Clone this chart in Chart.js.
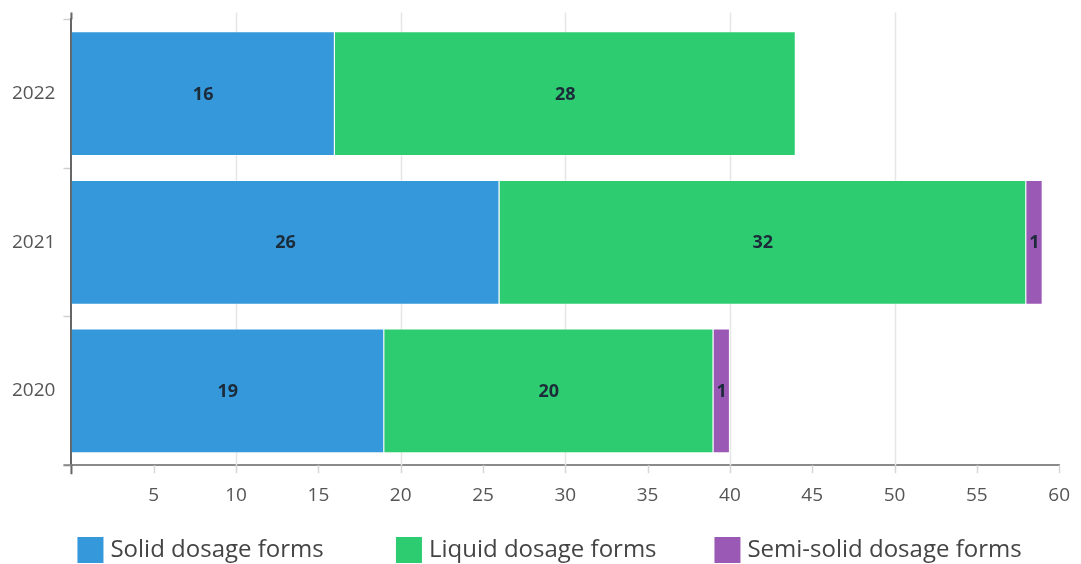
<!DOCTYPE html>
<html>
<head>
<meta charset="utf-8">
<script src="https://cdn.jsdelivr.net/npm/chart.js@4"></script>
<style>
  html, body { margin: 0; padding: 0; background: #fff; }
  #wrap { width: 1081px; height: 564px; }
</style>
</head>
<body>
<div id="wrap"><canvas id="chart"></canvas></div>
<script>
// data
const years = ['2022', '2021', '2020'];
const solidForms = [16, 26, 19];
const liquidForms = [28, 32, 20];
const semiSolidForms = [0, 1, 1];
const seriesNames = ['Solid dosage forms', 'Liquid dosage forms', 'Semi-solid dosage forms'];
const seriesColors = ['#3498db', '#2ecc71', '#9b59b6'];
const xMax = 60;
const xStep = 5;
const gridEvery = 10;

// light gridlines every 10 and small tick marks every 5 on the value axis
const valueAxisMarks = {
    id: 'valueAxisMarks',
    beforeDatasetsDraw(chart) {
        const { ctx, chartArea } = chart;
        const x = chart.scales.x;
        ctx.save();
        x.ticks.forEach(t => {
            const px = Math.round(x.getPixelForValue(t.value)) + 0.5;
            if (t.value > 0 && t.value < xMax && t.value % gridEvery === 0) {
                ctx.strokeStyle = '#e6e6e6';
                ctx.lineWidth = 1.5;
                ctx.beginPath();
                ctx.moveTo(px, chartArea.top - 7);
                ctx.lineTo(px, chartArea.bottom);
                ctx.stroke();
            }
            if (t.value > 0) {
                ctx.strokeStyle = '#d6d6d6';
                ctx.lineWidth = 1.5;
                ctx.beginPath();
                ctx.moveTo(px, chartArea.bottom);
                ctx.lineTo(px, chartArea.bottom + 8);
                ctx.stroke();
            }
        });
        ctx.restore();
    }
};

// values drawn in the middle of each segment
const barValueLabels = {
    id: 'barValueLabels',
    afterDatasetsDraw(chart) {
        const ctx = chart.ctx;
        ctx.save();
        ctx.font = 'bold 18px "Open Sans"';
        ctx.fillStyle = '#1c2b39';
        ctx.textAlign = 'center';
        ctx.textBaseline = 'middle';
        chart.data.datasets.forEach((ds, i) => {
            const meta = chart.getDatasetMeta(i);
            meta.data.forEach((bar, j) => {
                const v = ds.data[j];
                if (!v) return;
                const p = bar.getCenterPoint();
                ctx.fillText(String(v), p.x, p.y + 1);
            });
        });
        ctx.restore();
    }
};

// legend in fixed-width columns, like the original, plus the axis stubs
const columnLegend = {
    id: 'columnLegend',
    afterDraw(chart) {
        const { ctx, chartArea } = chart;
        const colWidth = 318.5;
        const box = 26;
        const midY = chart.height - 14;
        ctx.save();
        ctx.font = '24px "Open Sans"';
        ctx.textBaseline = 'middle';
        ctx.textAlign = 'left';
        chart.data.datasets.forEach((ds, i) => {
            const x = chartArea.left + 6 + i * colWidth;
            ctx.fillStyle = ds.backgroundColor;
            ctx.fillRect(x, midY - box / 2, box, box);
            ctx.fillStyle = '#444';
            ctx.fillText(ds.label, x + box + 7, midY);
        });
        // y axis line runs a little past the plot at both ends
        ctx.strokeStyle = '#666';
        ctx.lineWidth = 2;
        ctx.beginPath();
        ctx.moveTo(chartArea.left, chartArea.top - 7);
        ctx.lineTo(chartArea.left, chartArea.top);
        ctx.moveTo(chartArea.left, chartArea.bottom);
        ctx.lineTo(chartArea.left, chartArea.bottom + 9);
        ctx.stroke();
        // x axis line runs a little left of the plot
        ctx.strokeStyle = '#8a8a8a';
        ctx.beginPath();
        ctx.moveTo(chartArea.left - 8, chartArea.bottom);
        ctx.lineTo(chartArea.left, chartArea.bottom);
        ctx.stroke();
        ctx.restore();
    }
};

function makeSeries(name, values, color) {
    return {
        label: name,
        data: values,
        backgroundColor: color,
        borderColor: 'rgba(255,255,255,0.35)',
        borderWidth: 1,
        categoryPercentage: 0.84,
        barPercentage: 1
    };
}

const ctx = document.getElementById('chart').getContext('2d');
new Chart(ctx, {
    type: 'bar',
    data: {
        labels: years,
        datasets: [
            makeSeries(seriesNames[0], solidForms, seriesColors[0]),
            makeSeries(seriesNames[1], liquidForms, seriesColors[1]),
            makeSeries(seriesNames[2], semiSolidForms, seriesColors[2])
        ]
    },
    options: {
        indexAxis: 'y',
        responsive: true,
        maintainAspectRatio: false,
        animation: false,
        layout: { padding: { top: -4, right: -2, left: 4, bottom: 46 } },
        scales: {
            x: {
                stacked: true,
                min: 0,
                max: xMax,
                border: { color: '#8a8a8a', width: 2 },
                grid: { display: false },
                ticks: {
                    stepSize: xStep,
                    color: '#555',
                    padding: 11,
                    font: { size: 19, family: 'Open Sans' },
                    callback: (v) => v === 0 ? '' : v
                }
            },
            y: {
                stacked: true,
                border: { color: '#666', width: 2 },
                grid: {
                    drawOnChartArea: false,
                    tickColor: '#d0d0d0',
                    tickWidth: 1.5,
                    tickLength: 8
                },
                ticks: {
                    color: '#555',
                    padding: 8,
                    font: { size: 19, family: 'Open Sans' }
                }
            }
        },
        plugins: {
            legend: { display: false },
            tooltip: { enabled: false }
        }
    },
    plugins: [valueAxisMarks, barValueLabels, columnLegend]
});
</script>
</body>
</html>
